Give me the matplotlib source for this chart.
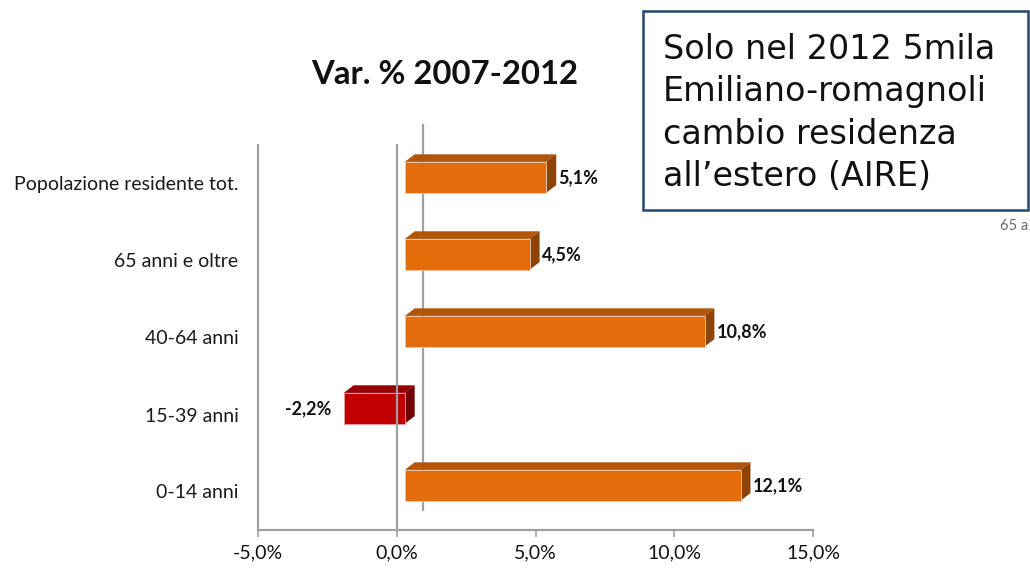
import matplotlib
matplotlib.use("Agg")
import matplotlib.pyplot as plt
from matplotlib.patches import Polygon, Rectangle

# Data (top to bottom as in the chart)
categories = ["Popolazione residente tot.", "65 anni e oltre", "40-64 anni", "15-39 anni", "0-14 anni"]
values = [5.1, 4.5, 10.8, -2.2, 12.1]
labels = ["5,1%", "4,5%", "10,8%", "-2,2%", "12,1%"]
xticks = [-5, 0, 5, 10, 15]
xticklabels = ["-5,0%", "0,0%", "5,0%", "10,0%", "15,0%"]

title = "Var. % 2007-2012"
note = "Solo nel 2012 5mila\nEmiliano-romagnoli\ncambio residenza\nall\u2019estero (AIRE)"

W, H = 1030, 568
fig = plt.figure(figsize=(W / 100, H / 100), dpi=100)
fig.patch.set_facecolor("white")

# front plane of the 3D chart in pixels: x 258..813, y 145..530
ax = fig.add_axes([258 / W, (H - 530) / H, 555 / W, 385 / H])
ax.set_xlim(-5, 15)
ax.set_ylim(-0.5, 4.5)
ax.patch.set_alpha(0)

font = "Lato"
grey = "#a0a0a0"

# 3D offsets (back wall shift in data units)
dxb = 26 / 27.75
dyb = 20 / 77
d1, d2 = 0.31, 0.69
h = 0.40

n = len(categories)
ypos = [n - 1 - i for i in range(n)]

# back wall zero line
ax.plot([dxb, dxb], [-0.5 + dyb, 4.5 + dyb], color=grey, lw=1.6, zorder=1, clip_on=False)

for y, v, lab in zip(ypos, values, labels):
    if v >= 0:
        front, top, side = "#e46c0a", "#b1560a", "#8f4407"
    else:
        front, top, side = "#c00000", "#940000", "#700000"
    x0, x1 = min(0, v), max(0, v)
    yb = y - h / 2
    yt = y + h / 2
    ax.barh(y + d1 * dyb, v, left=d1 * dxb, height=h, color=front,
            edgecolor="#f3c9a8" if v >= 0 else "#e8a0a0", linewidth=0.6, zorder=3, clip_on=False)
    ax.add_patch(Polygon([(x0 + d1 * dxb, yt + d1 * dyb), (x1 + d1 * dxb, yt + d1 * dyb),
                          (x1 + d2 * dxb, yt + d2 * dyb), (x0 + d2 * dxb, yt + d2 * dyb)],
                         closed=True, facecolor=top, edgecolor="none", zorder=2, clip_on=False))
    ax.add_patch(Polygon([(x1 + d1 * dxb, yb + d1 * dyb), (x1 + d1 * dxb, yt + d1 * dyb),
                          (x1 + d2 * dxb, yt + d2 * dyb), (x1 + d2 * dxb, yb + d2 * dyb)],
                         closed=True, facecolor=side, edgecolor="none", zorder=2, clip_on=False))
    if v >= 0:
        ax.text(x1 + d2 * dxb + 0.08, y + d1 * dyb, lab, ha="left", va="center",
                fontsize=13, fontweight="bold", family=font, color="#111111")
    else:
        ax.text(x0 + d1 * dxb - 0.45, y + d1 * dyb, lab, ha="right", va="center",
                fontsize=13, fontweight="bold", family=font, color="#111111")

# front zero line drawn over the bars
ax.plot([0, 0], [-0.5, 4.5], color=grey, lw=1.6, zorder=4, clip_on=False)

for s in ["top", "right"]:
    ax.spines[s].set_visible(False)
for s in ["left", "bottom"]:
    ax.spines[s].set_color(grey)
    ax.spines[s].set_linewidth(1.6)

ax.set_xticks(xticks)
ax.set_xticklabels(xticklabels, family=font, fontsize=14, color="#111111")
ax.tick_params(axis="x", direction="out", length=5, width=1.2, color=grey, pad=5)
ax.set_yticks(ypos)
ax.set_yticklabels(categories, family=font, fontsize=14, color="#1a1a1a")
ax.tick_params(axis="y", length=0, pad=14)

fig.text(445 / W, 1 - 75 / H, title, ha="center", va="center", fontsize=23.7,
         fontweight="bold", family=font, color="#111111")

# note box
fig.patches.append(Rectangle((643 / W, 1 - 210 / H), 385 / W, 199 / H, transform=fig.transFigure,
                             facecolor="white", edgecolor="#24466e", linewidth=1.8, zorder=5))
fig.text(663 / W, 1 - 113 / H, note, ha="left", va="center", fontsize=24,
         family="DejaVu Sans", color="#111111", linespacing=1.36, zorder=6)

fig.text(1000 / W, 1 - 226 / H, "65 a", ha="left", va="center", fontsize=10.5,
         family=font, color="#6a6a6a")

fig.savefig("out.png", dpi=100, facecolor="white")
